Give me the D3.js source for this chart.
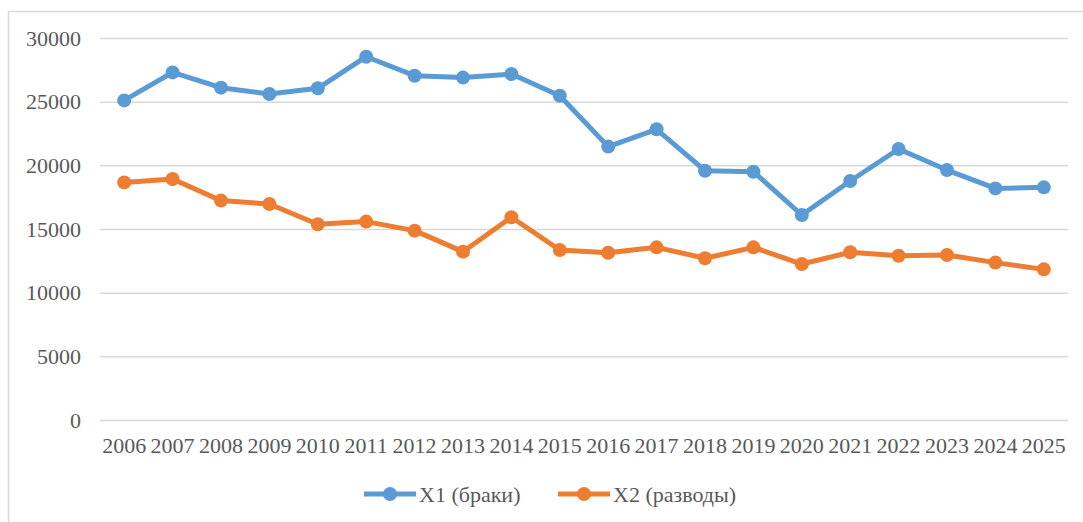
<!DOCTYPE html>
<html>
<head>
<meta charset="utf-8">
<script src="https://cdn.jsdelivr.net/npm/d3@7"></script>
<style>
  html, body { margin: 0; padding: 0; background: #fff; }
  svg { display: block; }
</style>
</head>
<body>
<svg id="chart" width="1083" height="522"></svg>
<script>
const years = ['2006','2007','2008','2009','2010','2011','2012','2013','2014','2015',
  '2016','2017','2018','2019','2020','2021','2022','2023','2024','2025'];
const marriages = [25100, 27300, 26100, 25600, 26050, 28530, 27040, 26890, 27170, 25470,
  21470, 22830, 19580, 19500, 16100, 18770, 21280, 19630, 18190, 18270];
const divorces = [18660, 18930, 17230, 16960, 15370, 15580, 14870, 13220, 15920, 13350,
  13140, 13560, 12700, 13560, 12250, 13170, 12900, 12960, 12360, 11830];
const yTicks = [0, 5000, 10000, 15000, 20000, 25000, 30000];
const series = [
  { name: 'X1 (браки)', values: marriages, color: '#5B9BD5' },
  { name: 'X2 (разводы)', values: divorces, color: '#ED7D31' }
];

const svg = d3.select('#chart');

// chart area frame
svg.append('rect')
  .attr('x', 8.5).attr('y', 11.5)
  .attr('width', 1100).attr('height', 530)
  .attr('fill', 'none')
  .attr('stroke', '#d9d9d9')
  .attr('stroke-width', 1.5);

const plot = { left: 100, right: 1068, top: 38, bottom: 420 };

const x = d3.scaleBand().domain(years).range([plot.left, plot.right]);
const y = d3.scaleLinear().domain([0, 30000]).range([plot.bottom, plot.top]);

function styleText(sel) {
  sel.style('font-family', '"Liberation Serif"')
    .style('font-size', '22px')
    .style('fill', '#595959');
}

// gridlines + y labels
const yAxis = d3.axisLeft(y)
  .tickValues(yTicks)
  .tickFormat(d3.format('d'))
  .tickSize(-(plot.right - plot.left))
  .tickPadding(19);
svg.append('g')
  .attr('transform', `translate(${plot.left},0)`)
  .call(yAxis)
  .attr('font-family', null)
  .call((g) => g.select('.domain').remove())
  .call((g) => g.selectAll('.tick line').attr('stroke', '#d9d9d9').attr('stroke-width', 1.5))
  .call((g) => g.selectAll('.tick text').call(styleText));

// x labels
const xAxis = d3.axisBottom(x).tickSize(0).tickPadding(17);
svg.append('g')
  .attr('transform', `translate(0,${plot.bottom})`)
  .call(xAxis)
  .attr('font-family', null)
  .call((g) => g.select('.domain').remove())
  .call((g) => g.selectAll('.tick text').call(styleText));

const cx = (i) => x(years[i]) + x.bandwidth() / 2;

const line = d3.line()
  .x((d, i) => cx(i))
  .y((d) => y(d));

for (const s of series) {
  svg.append('path')
    .datum(s.values)
    .attr('fill', 'none')
    .attr('stroke', s.color)
    .attr('stroke-width', 5)
    .attr('stroke-linejoin', 'round')
    .attr('d', line);

  svg.append('g')
    .selectAll('circle')
    .data(s.values)
    .join('circle')
    .attr('cx', (d, i) => cx(i))
    .attr('cy', (d) => y(d))
    .attr('r', 7)
    .attr('fill', s.color);
}

// legend
const legend = svg.append('g').attr('transform', 'translate(364,494)');
const legendX = [0, 194];
series.forEach((s, i) => {
  const g = legend.append('g').attr('transform', `translate(${legendX[i]},0)`);
  g.append('line')
    .attr('x1', 0).attr('x2', 52)
    .attr('stroke', s.color)
    .attr('stroke-width', 5);
  g.append('circle').attr('cx', 26).attr('r', 7).attr('fill', s.color);
  g.append('text')
    .attr('x', 55)
    .attr('dy', '0.35em')
    .call(styleText)
    .text(s.name);
});
</script>
</body>
</html>
